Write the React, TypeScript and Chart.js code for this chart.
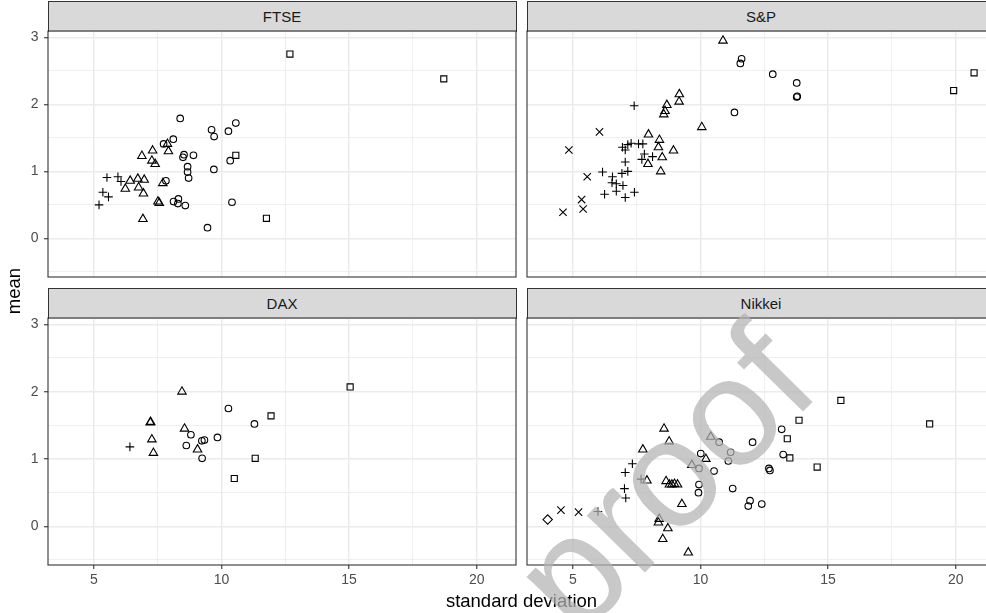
import React, { useEffect, useRef } from "react";
import { Chart, registerables } from "chart.js";

Chart.register(...registerables);

type Pt = [number, number];
type Shape = "circle" | "square" | "triangle" | "plus" | "cross" | "diamond";

const FONT = '"Liberation Sans", Arial, Helvetica, sans-serif';

// ---------------- data (standard deviation, mean) ----------------
const FTSE_PLUS: Pt[] = [[5.51, 0.91], [5.94, 0.92], [6.06, 0.85], [5.35, 0.69], [5.57, 0.62], [5.2, 0.5]];
const FTSE_TRIANGLE: Pt[] = [
  [6.88, 1.23], [7.3, 1.31], [7.27, 1.16], [7.4, 1.11], [7.88, 1.41], [7.92, 1.3], [6.42, 0.86], [6.72, 0.89],
  [6.97, 0.875], [6.23, 0.74], [6.75, 0.76], [6.94, 0.67], [7.7, 0.825], [7.51, 0.55], [7.56, 0.53], [6.92, 0.29],
];
const FTSE_CIRCLE: Pt[] = [
  [8.38, 1.79], [9.61, 1.62], [9.71, 1.52], [10.27, 1.6], [10.56, 1.72], [8.11, 1.48], [7.73, 1.41], [8.53, 1.25],
  [8.49, 1.21], [8.9, 1.24], [8.67, 1.07], [8.67, 0.99], [8.71, 0.9], [10.34, 1.16], [9.7, 1.03], [7.82, 0.86],
  [8.12, 0.55], [8.31, 0.59], [8.29, 0.52], [8.58, 0.49], [10.41, 0.54], [9.45, 0.16],
];
const FTSE_SQUARE: Pt[] = [[10.56, 1.24], [11.76, 0.3], [12.68, 2.75], [18.71, 2.38]];

const SP_CROSS: Pt[] = [[6.04, 1.59], [4.84, 1.32], [5.56, 0.92], [5.34, 0.58], [5.4, 0.44], [4.61, 0.39]];
const SP_PLUS: Pt[] = [
  [7.4, 1.98], [6.94, 1.36], [7.15, 1.4], [7.28, 1.42], [7.57, 1.41], [7.74, 1.41], [7.05, 1.32], [7.8, 1.26],
  [7.7, 1.18], [8.12, 1.22], [7.05, 1.14], [7.15, 1.0], [6.16, 0.99], [6.92, 0.97], [6.55, 0.92], [6.53, 0.83],
  [6.7, 0.815], [6.96, 0.79], [6.7, 0.705], [6.24, 0.66], [7.05, 0.61], [7.41, 0.69],
];
const SP_TRIANGLE: Pt[] = [
  [10.88, 2.95], [9.17, 2.15], [9.16, 2.04], [8.68, 1.99], [8.61, 1.9], [8.56, 1.85], [10.05, 1.66], [7.96, 1.55],
  [8.39, 1.47], [8.35, 1.36], [8.94, 1.31], [8.5, 1.21], [7.94, 1.11], [8.44, 1.0],
];
const SP_CIRCLE: Pt[] = [[11.61, 2.68], [11.56, 2.61], [12.83, 2.45], [13.77, 2.32], [13.77, 2.11], [13.79, 2.12], [11.33, 1.88]];
const SP_SQUARE: Pt[] = [[20.72, 2.47], [19.92, 2.205]];

const DAX_PLUS: Pt[] = [[6.41, 1.18]];
const DAX_TRIANGLE: Pt[] = [[8.45, 2.0], [7.21, 1.54], [7.22, 1.55], [8.55, 1.45], [7.27, 1.29], [7.33, 1.09], [9.06, 1.14]];
const DAX_CIRCLE: Pt[] = [[10.27, 1.75], [11.29, 1.52], [8.8, 1.36], [9.84, 1.32], [9.23, 1.27], [9.33, 1.28], [8.62, 1.2], [9.24, 1.01]];
const DAX_SQUARE: Pt[] = [[11.94, 1.64], [11.32, 1.01], [10.5, 0.71], [15.04, 2.07]];

const NIKKEI_DIAMOND: Pt[] = [[4.01, 0.1]];
const NIKKEI_CROSS: Pt[] = [[4.53, 0.24], [5.22, 0.21]];
const NIKKEI_PLUS: Pt[] = [[5.98, 0.22], [7.05, 0.8], [7.33, 0.93], [7.67, 0.7], [7.02, 0.56], [7.07, 0.42]];
const NIKKEI_TRIANGLE: Pt[] = [
  [8.57, 1.45], [8.77, 1.26], [7.74, 1.14], [10.4, 1.33], [10.21, 1.0], [9.66, 0.91], [7.9, 0.68], [8.65, 0.67],
  [8.78, 0.62], [8.88, 0.62], [8.98, 0.63], [9.1, 0.62], [9.27, 0.33], [8.38, 0.11], [8.35, 0.055], [8.72, -0.03],
  [8.52, -0.19], [9.52, -0.39],
];
const NIKKEI_CIRCLE: Pt[] = [
  [10.73, 1.25], [10.01, 1.08], [9.94, 0.86], [10.53, 0.82], [11.18, 1.1], [11.09, 0.97], [9.94, 0.62], [9.92, 0.5],
  [11.26, 0.56], [12.04, 1.25], [13.18, 1.44], [13.24, 1.065], [12.68, 0.86], [12.72, 0.83], [11.94, 0.38],
  [11.87, 0.3], [12.4, 0.33],
];
const NIKKEI_SQUARE: Pt[] = [[15.5, 1.87], [13.86, 1.575], [18.98, 1.52], [13.4, 1.3], [13.5, 1.015], [14.57, 0.88]];

const PANEL_TITLES = ["FTSE", "S&P", "DAX", "Nikkei"];
const X_TICKS = [5, 7.5, 10, 12.5, 15, 17.5, 20];
const X_MAJOR = [5, 10, 15, 20];
const Y_TICKS = [-0.5, 0, 0.5, 1, 1.5, 2, 2.5, 3];
const Y_MAJOR = [0, 1, 2, 3];
const X_RANGE = [3.2, 21.54];
const Y_RANGE = [-0.575, 3.094];
const X_TITLE = "standard deviation";
const Y_TITLE = "mean";
const WATERMARK = "proof";

// ---------------- styling ----------------
const SHAPE_STYLE: Record<Shape, { pointStyle: string; r: number }> = {
  circle: { pointStyle: "circle", r: 3.3 },
  square: { pointStyle: "rect", r: 4.3 },
  triangle: { pointStyle: "triangle", r: 4.9 },
  plus: { pointStyle: "cross", r: 4.3 },
  cross: { pointStyle: "crossRot", r: 5.2 },
  diamond: { pointStyle: "rectRot", r: 4.7 },
};

type Series = { shape: Shape; pts: Pt[] };

const borderPlugin = {
  id: "panelBorder",
  afterDraw(chart: any) {
    const { ctx, chartArea } = chart;
    ctx.save();
    ctx.strokeStyle = "#333333";
    ctx.lineWidth = 1.1;
    ctx.strokeRect(chartArea.left, chartArea.top, chartArea.right - chartArea.left, chartArea.bottom - chartArea.top);
    ctx.restore();
  },
};

type PanelProps = {
  left: number;
  top: number;
  width: number;
  height: number;
  pad: { top: number; right: number; bottom: number; left: number };
  showX: boolean;
  showY: boolean;
  xAxisH: number;
  yAxisW: number;
  series: Series[];
};

function Panel(p: PanelProps) {
  const ref = useRef<HTMLCanvasElement>(null);
  useEffect(() => {
    const isMajX = (v: any) => X_MAJOR.includes(Number(v));
    const isMajY = (v: any) => Y_MAJOR.includes(Number(v));
    const chart = new Chart(ref.current as HTMLCanvasElement, {
      type: "scatter",
      data: {
        datasets: p.series.map((s) => ({
          data: s.pts.map(([x, y]) => ({ x, y })),
          pointStyle: SHAPE_STYLE[s.shape].pointStyle as any,
          pointRadius: SHAPE_STYLE[s.shape].r,
          pointHoverRadius: SHAPE_STYLE[s.shape].r,
          pointBorderColor: "#000000",
          pointBackgroundColor: "rgba(0,0,0,0)",
          pointBorderWidth: 1.1,
          showLine: false,
        })),
      },
      options: {
        animation: false,
        responsive: false,
        maintainAspectRatio: false,
        events: [],
        layout: { padding: p.pad, autoPadding: false },
        plugins: { legend: { display: false }, tooltip: { enabled: false }, title: { display: false } },
        scales: {
          x: {
            type: "linear",
            min: X_RANGE[0],
            max: X_RANGE[1],
            afterBuildTicks: (s: any) => {
              s.ticks = X_TICKS.map((v) => ({ value: v }));
            },
            afterFit: (s: any) => {
              s.height = p.xAxisH;
              s.paddingLeft = 0;
              s.paddingRight = 0;
              s.paddingTop = 0;
              s.paddingBottom = 0;
            },
            border: { display: false },
            grid: {
              color: "#EBEBEB",
              lineWidth: (c: any) => (isMajX(c.tick?.value) ? 1.5 : 0.8),
              drawTicks: p.showX,
              tickLength: 4,
              tickWidth: 1.1,
              tickColor: (c: any) => (isMajX(c.tick?.value) ? "#333333" : "rgba(0,0,0,0)"),
            },
            ticks: {
              display: p.showX,
              autoSkip: false,
              maxRotation: 0,
              padding: 3,
              color: "#4D4D4D",
              font: { family: FONT, size: 14 },
              callback: (v: any) => (isMajX(v) ? String(v) : ""),
            },
          },
          y: {
            type: "linear",
            min: Y_RANGE[0],
            max: Y_RANGE[1],
            afterBuildTicks: (s: any) => {
              s.ticks = Y_TICKS.map((v) => ({ value: v }));
            },
            afterFit: (s: any) => {
              s.width = p.yAxisW;
              s.paddingLeft = 0;
              s.paddingRight = 0;
              s.paddingTop = 0;
              s.paddingBottom = 0;
            },
            border: { display: false },
            grid: {
              color: "#EBEBEB",
              lineWidth: (c: any) => (isMajY(c.tick?.value) ? 1.5 : 0.8),
              drawTicks: p.showY,
              tickLength: 4,
              tickWidth: 1.1,
              tickColor: (c: any) => (isMajY(c.tick?.value) ? "#333333" : "rgba(0,0,0,0)"),
            },
            ticks: {
              display: p.showY,
              autoSkip: false,
              padding: 5.5,
              color: "#4D4D4D",
              font: { family: FONT, size: 14 },
              callback: (v: any) => (isMajY(v) ? String(v) : ""),
            },
          },
        },
      },
      plugins: [borderPlugin],
    } as any);
    return () => chart.destroy();
  }, []);
  return (
    <canvas
      ref={ref}
      width={p.width}
      height={p.height}
      style={{ position: "absolute", left: p.left, top: p.top, width: p.width, height: p.height }}
    />
  );
}

function Strip({ left, top, label }: { left: number; top: number; label: string }) {
  return (
    <div
      style={{
        position: "absolute",
        left,
        top,
        width: 469,
        height: 30.5,
        boxSizing: "border-box",
        background: "#D9D9D9",
        borderTop: "1.1px solid #333333",
        borderLeft: "1.1px solid #333333",
        borderRight: "1.1px solid #333333",
        color: "#1A1A1A",
        fontFamily: FONT,
        fontSize: 15,
        lineHeight: "29px",
        textAlign: "center",
      }}
    >
      {label}
    </div>
  );
}

export default function App() {
  const padTop = { top: 1, right: 1, bottom: 1, left: 0 };
  return (
    <div
      style={{
        position: "fixed",
        left: 0,
        top: 0,
        width: 986,
        height: 613,
        overflow: "hidden",
        background: "#FFFFFF",
        fontFamily: FONT,
      }}
    >
      <Strip left={47.5} top={1} label={PANEL_TITLES[0]} />
      <Strip left={526.5} top={1} label={PANEL_TITLES[1]} />
      <Strip left={47.5} top={288} label={PANEL_TITLES[2]} />
      <Strip left={526.5} top={288} label={PANEL_TITLES[3]} />
      <Panel
        left={0}
        top={30}
        width={517}
        height={248}
        pad={padTop}
        showX={false}
        showY={true}
        xAxisH={0}
        yAxisW={48}
        series={[
          { shape: "plus", pts: FTSE_PLUS },
          { shape: "triangle", pts: FTSE_TRIANGLE },
          { shape: "circle", pts: FTSE_CIRCLE },
          { shape: "square", pts: FTSE_SQUARE },
        ]}
      />
      <Panel
        left={526}
        top={30}
        width={470}
        height={248}
        pad={{ top: 1, right: 1, bottom: 1, left: 1 }}
        showX={false}
        showY={false}
        xAxisH={0}
        yAxisW={0}
        series={[
          { shape: "cross", pts: SP_CROSS },
          { shape: "plus", pts: SP_PLUS },
          { shape: "triangle", pts: SP_TRIANGLE },
          { shape: "circle", pts: SP_CIRCLE },
          { shape: "square", pts: SP_SQUARE },
        ]}
      />
      <Panel
        left={0}
        top={317}
        width={517}
        height={296}
        pad={{ top: 1, right: 1, bottom: 0, left: 0 }}
        showX={true}
        showY={true}
        xAxisH={48}
        yAxisW={48}
        series={[
          { shape: "plus", pts: DAX_PLUS },
          { shape: "triangle", pts: DAX_TRIANGLE },
          { shape: "circle", pts: DAX_CIRCLE },
          { shape: "square", pts: DAX_SQUARE },
        ]}
      />
      <Panel
        left={526}
        top={317}
        width={470}
        height={296}
        pad={{ top: 1, right: 1, bottom: 0, left: 1 }}
        showX={true}
        showY={false}
        xAxisH={48}
        yAxisW={0}
        series={[
          { shape: "diamond", pts: NIKKEI_DIAMOND },
          { shape: "cross", pts: NIKKEI_CROSS },
          { shape: "plus", pts: NIKKEI_PLUS },
          { shape: "triangle", pts: NIKKEI_TRIANGLE },
          { shape: "circle", pts: NIKKEI_CIRCLE },
          { shape: "square", pts: NIKKEI_SQUARE },
        ]}
      />
      <svg
        width={986}
        height={613}
        style={{ position: "absolute", left: 0, top: 0, pointerEvents: "none" }}
      >
        <text x={521.5} y={606.5} textAnchor="middle" fontFamily={FONT} fontSize={18.5} fill="#000000">
          {X_TITLE}
        </text>
        <text
          x={20}
          y={291}
          textAnchor="middle"
          fontFamily={FONT}
          fontSize={18.5}
          fill="#000000"
          transform="rotate(-90 20 291)"
        >
          {Y_TITLE}
        </text>
        <text
          x={577.5}
          y={641}
          fontFamily={FONT}
          fontSize={154}
          fill="#B3B3B3"
          fillOpacity={0.72}
          transform="rotate(-45.5 577.5 641)"
        >
          {WATERMARK}
        </text>
      </svg>
    </div>
  );
}
